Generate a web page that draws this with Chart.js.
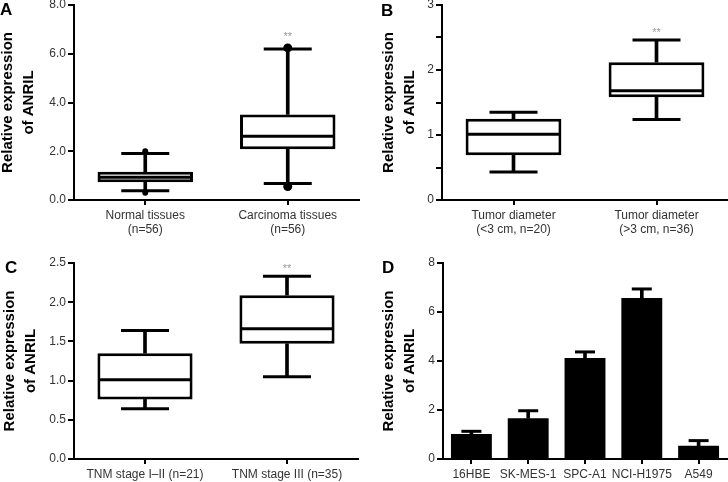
<!DOCTYPE html>
<html>
<head>
<meta charset="utf-8">
<script src="https://cdn.jsdelivr.net/npm/chart.js@4.4.0/dist/chart.umd.min.js"></script>
<style>
  html, body { margin: 0; padding: 0; background: #fff; width: 728px; height: 482px; overflow: hidden; position: relative; }
  canvas { position: absolute; }
  .letter { position: absolute; font: bold 17px "Liberation Sans", Arial, sans-serif; line-height: 17px; color: #000; }
</style>
</head>
<body>
<canvas id="chartA" width="384" height="261" style="left:-10px;top:-10px"></canvas>
<canvas id="chartB" width="384" height="261" style="left:354px;top:-10px"></canvas>
<canvas id="chartC" width="384" height="261" style="left:-10px;top:231px"></canvas>
<canvas id="chartD" width="384" height="261" style="left:354px;top:231px"></canvas>
<div class="letter" style="left:0px;top:1px">A</div>
<div class="letter" style="left:381px;top:2px">B</div>
<div class="letter" style="left:5px;top:259px">C</div>
<div class="letter" style="left:382px;top:259px">D</div>

<script>
// ---------- data ----------
// A: normal vs carcinoma
const labelsA = [['Normal tissues', '(n=56)'], ['Carcinoma tissues', '(n=56)']];
const minA = [0.38, 0.68];
const q1A = [0.73, 2.08];
const medA = [0.93, 2.62];
const q3A = [1.16, 3.51];
const maxA = [1.91, 6.19];
const dotHiA = [2.0, 6.24];
const dotLoA = [0.3, 0.55];
const starA = [null, 6.83];
const ticksA = [0, 2, 4, 6, 8];
const tickLabelsA = ['0.0', '2.0', '4.0', '6.0', '8.0'];

// B: tumor diameter
const labelsB = [['Tumor diameter', '(<3 cm, n=20)'], ['Tumor diameter', '(>3 cm, n=36)']];
const minB = [0.43, 1.24];
const q1B = [0.69, 1.58];
const medB = [1.01, 1.68];
const q3B = [1.25, 2.12];
const maxB = [1.35, 2.46];
const starB = [null, 2.62];
const ticksB = [0, 0.5, 1, 1.5, 2, 2.5, 3];
const tickLabelsB = ['0', '', '1', '', '2', '', '3'];

// C: TNM stage
const labelsC = ['TNM stage I\u2013II (n=21)', 'TNM stage III (n=35)'];
const minC = [0.64, 1.05];
const q1C = [0.76, 1.47];
const medC = [1.01, 1.66];
const q3C = [1.35, 2.09];
const maxC = [1.64, 2.33];
const starC = [null, 2.46];
const ticksC = [0, 0.5, 1, 1.5, 2, 2.5];
const tickLabelsC = ['0.0', '0.5', '1.0', '1.5', '2.0', '2.5'];

// D: cell lines
const labelsD = ['16HBE', 'SK-MES-1', 'SPC-A1', 'NCI-H1975', 'A549'];
const meanD = [1.02, 1.66, 4.12, 6.57, 0.54];
const errTopD = [1.13, 1.97, 4.37, 6.94, 0.75];
const ticksD = [0, 2, 4, 6, 8];
const tickLabelsD = ['0', '2', '4', '6', '8'];

// ---------- helpers ----------
const FONT = '"Liberation Sans", Arial, Helvetica, sans-serif';

// the "**" marks above a group
const starPlugin = {
    id: 'stars',
    afterDatasetsDraw(chart, args, opts) {
        if (!opts.values) return;
        const ctx = chart.ctx, xs = chart.scales.x, ys = chart.scales.y;
        ctx.save();
        ctx.fillStyle = '#9a9a9a';
        ctx.font = '11px ' + FONT;
        ctx.textAlign = 'center';
        ctx.textBaseline = 'middle';
        opts.values.forEach(function(v, i) {
            if (v != null) ctx.fillText('**', xs.getPixelForValue(i), ys.getPixelForValue(v) + 3);
        });
        ctx.restore();
    }
};

// f = chart area inside the 364x241 panel, padL = where the axis title starts
function baseOptions(f, ticks, tickLabels, stars) {
    return {
        responsive: false,
        animation: false,
        events: [],
        layout: { autoPadding: false, padding: { left: 10 + f.padL, top: 10 + f.top, right: 374 - f.right, bottom: 10 } },
        plugins: {
            legend: { display: false },
            tooltip: { enabled: false },
            stars: { values: stars }
        },
        scales: {
            x: {
                grid: { offset: false, drawOnChartArea: false, tickLength: 5, lineWidth: 2, color: '#000' },
                border: { color: '#000', width: 2 },
                ticks: { color: '#333', font: { family: FONT, size: 12 }, padding: 3, maxRotation: 0, autoSkip: false },
                afterFit: function(s) { s.height = 241 - f.bottom; }
            },
            y: {
                min: ticks[0],
                max: ticks[ticks.length - 1],
                afterBuildTicks: function(s) { s.ticks = ticks.map(function(v) { return { value: v }; }); },
                grid: { drawOnChartArea: false, tickLength: 6, lineWidth: 2, color: '#000' },
                border: { color: '#000', width: 2 },
                ticks: {
                    color: '#333', font: { family: FONT, size: 12 }, padding: 2,
                    callback: function(v, i) { return tickLabels[i]; }
                },
                title: {
                    display: true,
                    text: ['Relative expression', 'of ANRIL'],
                    color: '#000',
                    font: { family: FONT, size: 15, weight: 'bold', lineHeight: 1.35 },
                    padding: { top: 0, bottom: 0 }
                },
                afterFit: function(s) { s.width = f.left - f.padL; }
            }
        }
    };
}

function boxChart(id, labels, mins, q1s, meds, q3s, maxs, stars, ticks, tickLabels, f, extra) {
    var datasets = (extra || []).concat([
        { type: 'line', data: meds, showLine: false, pointStyle: 'line', pointRadius: 47, pointBorderWidth: 3, pointBorderColor: '#000' },
        { type: 'line', data: maxs, showLine: false, pointStyle: 'line', pointRadius: 24, pointBorderWidth: 3, pointBorderColor: '#000' },
        { type: 'line', data: mins, showLine: false, pointStyle: 'line', pointRadius: 24, pointBorderWidth: 3, pointBorderColor: '#000' },
        { type: 'bar', data: q1s.map(function(v, i) { return [v, q3s[i]]; }), backgroundColor: '#fff', borderColor: '#000',
          borderWidth: 3, borderSkipped: false, grouped: false, barPercentage: 0.67, categoryPercentage: 1 },
        { type: 'bar', data: q3s.map(function(v, i) { return [v, maxs[i]]; }), backgroundColor: '#000', barThickness: 3, grouped: false },
        { type: 'bar', data: mins.map(function(v, i) { return [v, q1s[i]]; }), backgroundColor: '#000', barThickness: 3, grouped: false }
    ]);
    return new Chart(document.getElementById(id), {
        type: 'bar',
        data: { labels: labels, datasets: datasets },
        options: baseOptions(f, ticks, tickLabels, stars),
        plugins: [starPlugin]
    });
}

// ---------- panels ----------
boxChart('chartA', labelsA, minA, q1A, medA, q3A, maxA, starA, ticksA, tickLabelsA,
    { left: 74, top: 5, right: 359, bottom: 200, padL: -2 },
    [
        { type: 'line', data: dotHiA, showLine: false, pointStyle: 'circle', pointRadius: [3, 4.5], pointBackgroundColor: '#000', pointBorderWidth: 0 },
        { type: 'line', data: dotLoA, showLine: false, pointStyle: 'circle', pointRadius: [3, 4.5], pointBackgroundColor: '#000', pointBorderWidth: 0 }
    ]);

boxChart('chartB', labelsB, minB, q1B, medB, q3B, maxB, starB, ticksB, tickLabelsB,
    { left: 78, top: 5, right: 364, bottom: 200, padL: 15 });

boxChart('chartC', labelsC, minC, q1C, medC, q3C, maxC, starC, ticksC, tickLabelsC,
    { left: 74, top: 22, right: 358, bottom: 218, padL: 0 });

// D: bars with upper error bars
new Chart(document.getElementById('chartD'), {
    type: 'bar',
    data: {
        labels: labelsD,
        datasets: [
            { type: 'line', data: errTopD, showLine: false, pointStyle: 'line', pointRadius: 10, pointBorderWidth: 3, pointBorderColor: '#000' },
            { type: 'bar', data: meanD.map(function(v, i) { return [v, errTopD[i]]; }), backgroundColor: '#000', barThickness: 3, grouped: false },
            { type: 'bar', data: meanD, backgroundColor: '#000', barPercentage: 0.72, categoryPercentage: 1, grouped: false }
        ]
    },
    options: baseOptions({ left: 79, top: 22, right: 363, bottom: 218, padL: 15 }, ticksD, tickLabelsD, null),
    plugins: [starPlugin]
});
</script>
</body>
</html>
